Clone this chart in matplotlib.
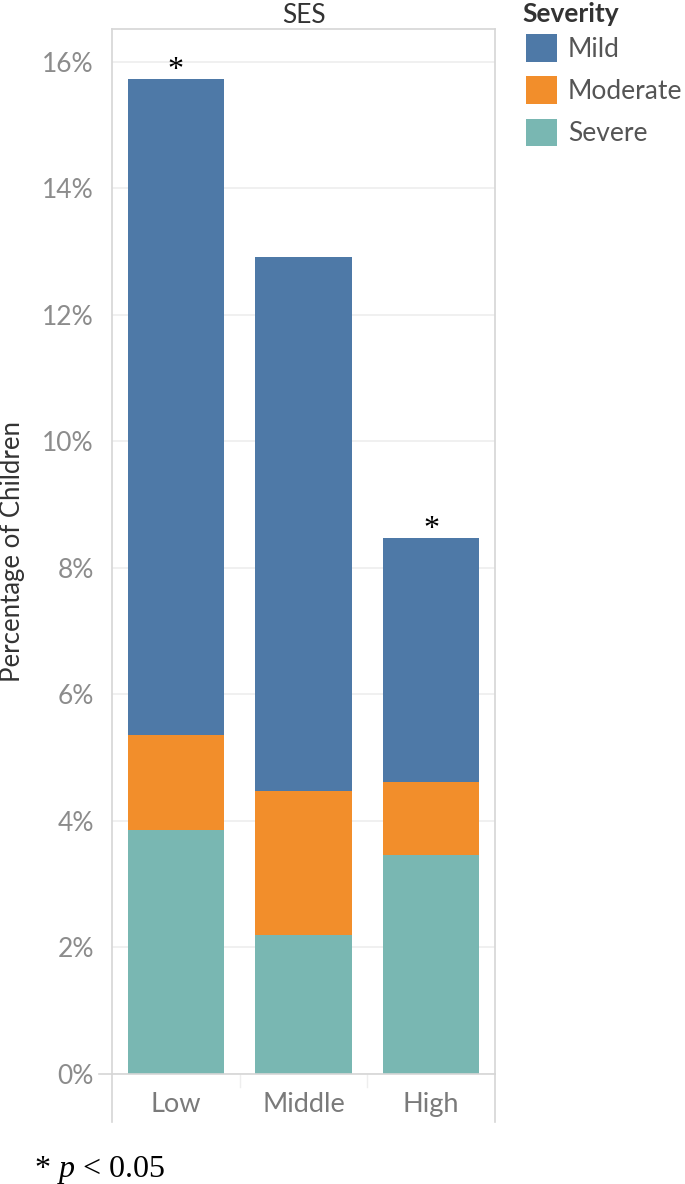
import matplotlib
matplotlib.use("Agg")
import matplotlib.pyplot as plt
from matplotlib.patches import Patch
import numpy as np

plt.rcParams["mathtext.fontset"] = "custom"
plt.rcParams["mathtext.rm"] = "Liberation Serif"
plt.rcParams["mathtext.it"] = "Liberation Serif:italic"

categories = ["Low", "Middle", "High"]
severe = [3.86, 2.20, 3.46]
moderate = [1.50, 2.27, 1.15]
mild = [10.37, 8.44, 3.86]
significant = [True, False, True]
yticks = [0, 2, 4, 6, 8, 10, 12, 14, 16]

colors = {"Mild": "#4E79A7", "Moderate": "#F28E2B", "Severe": "#79B7B2"}
FONT = ["Lato", "DejaVu Sans"]

fig = plt.figure(figsize=(6.85, 11.84), dpi=100)
ax = fig.add_axes([0.1635, 0.0929, 0.5591, 0.8826])

x = np.arange(len(categories))
w = 0.755
ax.bar(x, severe, w, color=colors["Severe"], edgecolor="none")
b2 = np.array(severe)
ax.bar(x, moderate, w, bottom=b2, color=colors["Moderate"], edgecolor="none")
b3 = b2 + np.array(moderate)
ax.bar(x, mild, w, bottom=b3, color=colors["Mild"], edgecolor="none")
totals = b3 + np.array(mild)

for xi, t, s in zip(x, totals, significant):
    if s:
        ax.annotate("*", (xi, t), xytext=(0, -4), textcoords="offset points",
                    ha="center", va="bottom", fontsize=23, color="black",
                    family=["Liberation Serif", "DejaVu Serif"])

ax.set_xlim(-0.5, 2.5)
ax.set_ylim(0, 16.52)
ax.set_yticks(yticks)
ax.set_yticklabels([f"{v}%" for v in yticks], fontsize=19, color="#8c8c8c", family=FONT)
ax.set_xticks(x)
ax.set_xticklabels(categories, fontsize=19.5, color="#7a7a7a", family=FONT)
ax.tick_params(axis="y", length=0, pad=13)
ax.tick_params(axis="x", length=0, pad=13)
ax.yaxis.grid(True, color="#eeeeee", linewidth=1.2)
ax.set_axisbelow(True)
for sp in ax.spines.values():
    sp.set_color("#d6d6d6")
    sp.set_linewidth(1.2)

ax.set_ylabel("Percentage of Children", fontsize=18.5, color="#333333", family=FONT)
ax.yaxis.set_label_coords(-0.226, 0.5)
ax.set_title("SES", family=FONT, fontsize=19, color="#333333", pad=4)

# header band lines below axis
lc = "#d6d6d6"
ax.plot([-0.5, -0.5], [0, -0.76], color=lc, lw=1.2, clip_on=False)
ax.plot([2.5, 2.5], [0, -0.76], color=lc, lw=1.2, clip_on=False)
ax.plot([-0.6, -0.5], [0, 0], color=lc, lw=1.2, clip_on=False)
for d in [0.5, 1.5]:
    ax.plot([d, d], [0, -0.2], color="#eeeeee", lw=1.0, clip_on=False)

fig.text(0.762, 1 - 14 / 1184, "Severity", family=FONT, fontsize=19, weight="bold",
         color="#333333", ha="left", va="center")
handles = [Patch(facecolor=colors[k], edgecolor="none", label=k) for k in ["Mild", "Moderate", "Severe"]]
leg = fig.legend(handles=handles, loc="upper left", bbox_to_anchor=(0.768, 0.971),
                 frameon=False, handlelength=1.17, handleheight=1.22,
                 handletextpad=0.42, labelspacing=0.55, borderaxespad=0, borderpad=0,
                 prop={"family": FONT, "size": 19})
for t in leg.get_texts():
    t.set_color("#555555")

fig.text(0.05, 0.006, r"* $\mathit{p}$ < 0.05", family=["Liberation Serif", "DejaVu Serif"],
         fontsize=23, color="black", ha="left", va="baseline")

fig.savefig("out.png", dpi=100)
